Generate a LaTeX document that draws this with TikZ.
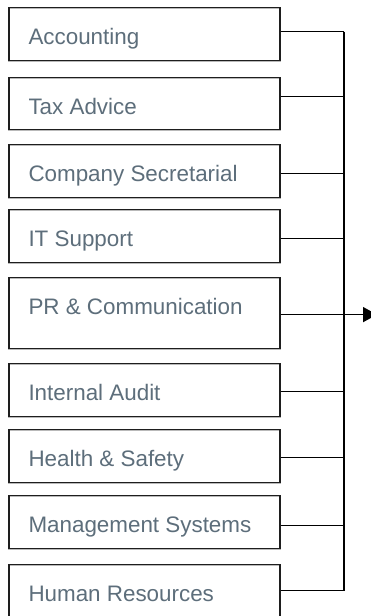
\documentclass[tikz,border=0pt]{standalone}
\usepackage{fontspec}
\setmainfont{Liberation Sans}
\usetikzlibrary{arrows.meta,calc}
\definecolor{txtc}{HTML}{5D6E7B}
\definecolor{edgec}{HTML}{1E1E1E}
\tikzset{
  box/.style={draw=edgec, line width=1.2pt, rectangle, inner sep=0pt,
    minimum width=271pt, anchor=north west,
    preaction={draw=gray!55, line width=2.2pt}},
  lbl/.style={text=txtc, font=\fontsize{22.4pt}{26pt}\selectfont, anchor=base west, inner sep=0pt},
  conn/.style={draw=black, line width=1.5pt},
}
\begin{document}
\begin{tikzpicture}[x=1pt,y=-1pt]
\useasboundingbox (0,0) rectangle (371,616);
\fill[white] (0,0) rectangle (371,616);
% boxes: name / top / height / label / connector shift
\foreach \n/\t/\h/\txt in {
  b1/7/53/Accounting,
  b2/77/52/Tax Advice,
  b3/144/53/Company Secretarial,
  b4/209/53/IT Support,
  b5/277/71/PR \& Communication,
  b6/363/53/Internal Audit,
  b7/429/53/Health \& Safety,
  b8/495/53/Management Systems,
  b9/564/54/Human Resources}{
  \node[box, minimum height=\h pt] (\n) at (8.3,\t) {};
  \node[lbl] (\n l) at ([xshift=20pt,yshift=-37.5pt]\n.north west) {\txt};
}
\coordinate (sp) at (344,0);
\foreach \n/\s in {b1/2.5,b2/7,b3/-2.5,b4/-2.5,b6/-1.5,b7/-1.5,b8/-3.5,b9/1}{
  \coordinate (\n c) at ([yshift=\s pt]\n.east);
  \draw[conn] (\n c) -- (\n c -| sp);
}
\coordinate (b5c) at ([yshift=-1.5pt]b5.east);
\coordinate (tip) at (377,0);
\draw[conn] (b1c -| sp) -- (b9c -| sp);
\draw[conn, -{Triangle[length=14pt,width=15pt]}] (b5c) -- (b5c -| tip);
\end{tikzpicture}
\end{document}
